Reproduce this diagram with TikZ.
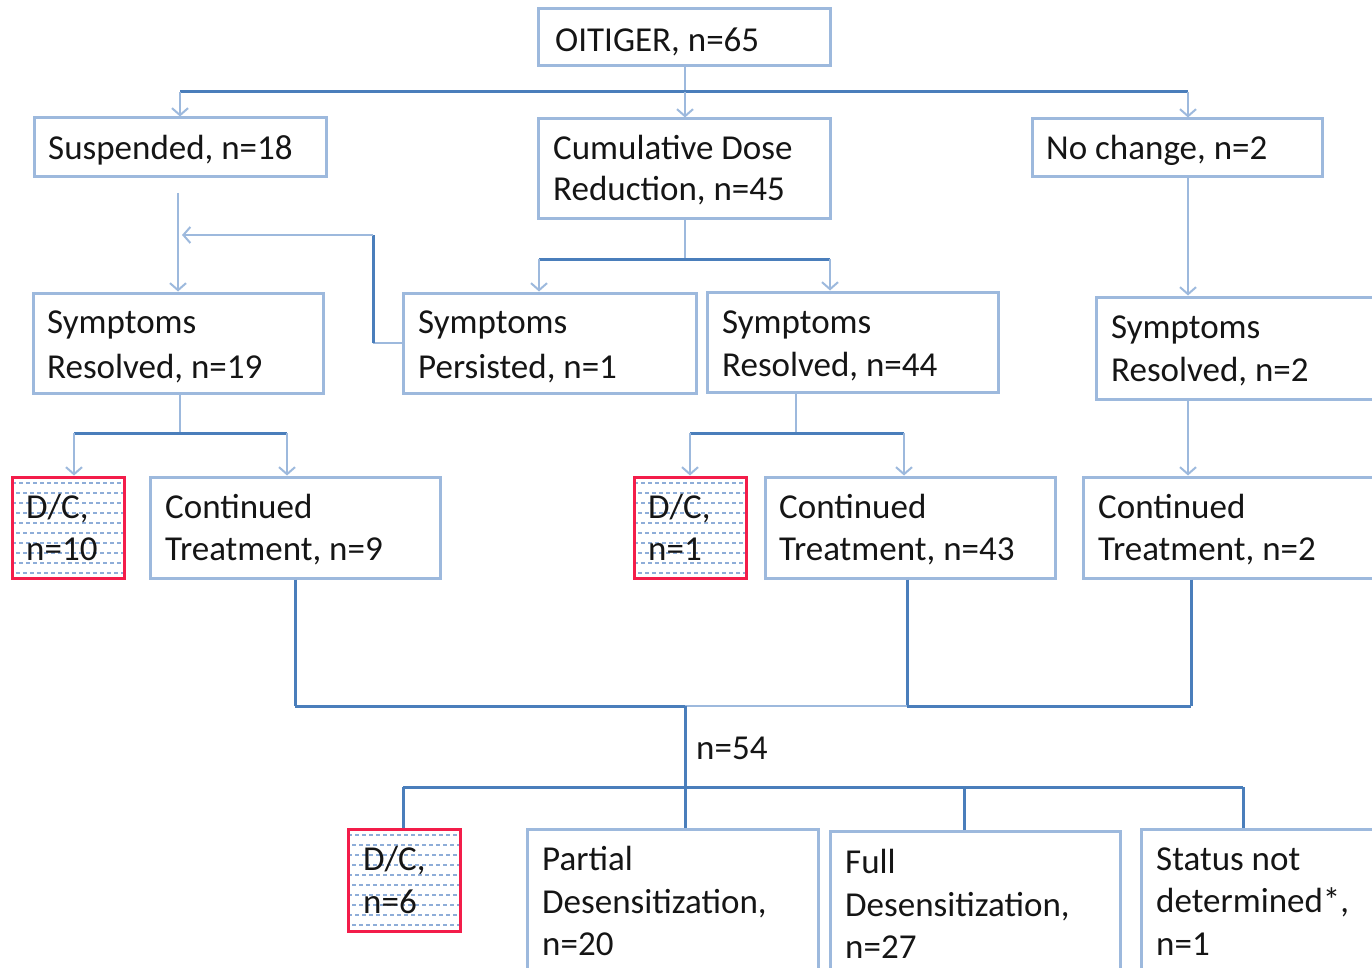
\documentclass[tikz,border=0pt]{standalone}
\usepackage{fontspec}
\setmainfont{Carlito}
\usetikzlibrary{arrows.meta}
\definecolor{lb}{HTML}{9DB9DD}
\definecolor{hb}{HTML}{8EADD8}
\definecolor{db}{HTML}{4A7EBB}
\definecolor{rd}{HTML}{F31D4A}
\definecolor{txt}{HTML}{151515}
\tikzset{
  box/.style={draw=lb, line width=3pt, inner sep=0pt},
  dcbox/.style={draw=rd, line width=3pt, inner sep=0pt},
  lt/.style={draw=lb, line width=2.6pt},
  dk/.style={draw=db, line width=3pt},
  arr/.style={-{Straight Barb[length=7pt,width=16pt,line width=2pt]}},
  lbl/.style={anchor=base west, inner sep=0pt, text=txt, font=\fontsize{35}{43}\selectfont},
}
\newcommand\hatchrows[4]{%
  \begin{scope}
    \clip (#1,#2) rectangle (#3,#4);
    \foreach \k in {0,...,10}{
      \pgfmathsetmacro\yy{#2+6+\k*10}
      \pgfmathsetmacro\ph{mod(\k,2)*3}
      \draw[hb, line width=2.4pt, dash pattern=on 4pt off 3pt, dash phase=\ph pt] (#1,\yy) -- (#3,\yy);
    }
  \end{scope}}
\begin{document}
\begin{tikzpicture}[x=1pt,y=-1pt]
\useasboundingbox (0,0) rectangle (1372,968);

% hatch fills for D/C boxes
\hatchrows{12}{477}{124}{578}
\hatchrows{634}{477}{746}{578}
\hatchrows{348}{829}{460}{931}

% boxes
\node[box, minimum width=292pt, minimum height=57pt] (top) at (684,37.5) {};
\node[box, minimum width=292pt, minimum height=59pt] (susp) at (180,147.5) {};
\node[box, minimum width=292pt, minimum height=100pt] (cum) at (684,169) {};
\node[box, minimum width=290pt, minimum height=58pt] (noch) at (1177,148) {};
\node[box, minimum width=290pt, minimum height=100pt] (sr1) at (178,343) {};
\node[box, minimum width=293pt, minimum height=100pt] (sp) at (549.5,343) {};
\node[box, minimum width=291pt, minimum height=100pt] (sr2) at (852.5,342) {};
\node[box, minimum width=290pt, minimum height=102pt] (sr3) at (1241,348) {};
\node[dcbox, minimum width=112pt, minimum height=101pt] (dc1) at (68,527.5) {};
\node[box, minimum width=290pt, minimum height=101pt] (ct1) at (295,527.5) {};
\node[dcbox, minimum width=112pt, minimum height=101pt] (dc2) at (690,527.5) {};
\node[box, minimum width=290pt, minimum height=101pt] (ct2) at (910,527.5) {};
\node[box, minimum width=297pt, minimum height=101pt] (ct3) at (1231.5,527.5) {};
\node[dcbox, minimum width=112pt, minimum height=102pt] (dc3) at (404,880) {};
\node[box, minimum width=291pt, minimum height=161pt] (pd) at (672.5,909.5) {};
\node[box, minimum width=290pt, minimum height=159pt] (fd) at (975,910.5) {};
\node[box, minimum width=239pt, minimum height=161pt] (sn) at (1260.5,909.5) {};

% texts
\node[lbl] (t0) at (555,52) {OITIGER, n=65};
\node[lbl] (t1) at (48,160) {Suspended, n=18};
\node[lbl] (t2a) at (553,160) {Cumulative Dose};
\node[lbl] (t2b) at (553,201) {Reduction, n=45};
\node[lbl] (t3) at (1046,160) {No change, n=2};
\node[lbl] (t4a) at (47,333) {Symptoms};
\node[lbl] (t4b) at (47,378) {Resolved, n=19};
\node[lbl] (t5a) at (418,333) {Symptoms};
\node[lbl] (t5b) at (418,378) {Persisted, n=1};
\node[lbl] (t6a) at (722,333) {Symptoms};
\node[lbl] (t6b) at (722,376) {Resolved, n=44};
\node[lbl] (t7a) at (1111,338) {Symptoms};
\node[lbl] (t7b) at (1111,381) {Resolved, n=2};
\node[lbl] (t8a) at (26,518) {D/C,};
\node[lbl] (t8b) at (26,560) {n=10};
\node[lbl] (t9a) at (165,518) {Continued};
\node[lbl] (t9b) at (165,560) {Treatment, n=9};
\node[lbl] (t10a) at (648,518) {D/C,};
\node[lbl] (t10b) at (648,560) {n=1};
\node[lbl] (t11a) at (779,518) {Continued};
\node[lbl] (t11b) at (779,560) {Treatment, n=43};
\node[lbl] (t12a) at (1098,518) {Continued};
\node[lbl] (t12b) at (1098,560) {Treatment, n=2};
\node[lbl] (t13) at (696,759) {n=54};
\node[lbl] (t14a) at (363,870) {D/C,};
\node[lbl] (t14b) at (363,913) {n=6};
\node[lbl] (t15a) at (542,870) {Partial};
\node[lbl] (t15b) at (542,913) {Desensitization,};
\node[lbl] (t15c) at (542,955) {n=20};
\node[lbl] (t16a) at (845,873) {Full};
\node[lbl] (t16b) at (845,916) {Desensitization,};
\node[lbl] (t16c) at (845,958) {n=27};
\node[lbl] (t17a) at (1156,870) {Status not};
\node[lbl] (t17b) at (1156,912) {determined*,};
\node[lbl] (t17c) at (1156,955) {n=1};

% junction coordinates
\coordinate (a0) at (685,92);
\coordinate (aL) at (180,92);
\coordinate (aR) at (1188,92);
\coordinate (s0) at (178,193);
\coordinate (pk) at (373,235);
\coordinate (pe) at (182,235);
\coordinate (b0) at (685,259);
\coordinate (bL) at (539,259);
\coordinate (bR) at (830,259);
\coordinate (c0) at (180,433);
\coordinate (cL) at (74,433);
\coordinate (cR) at (287,433);
\coordinate (d0) at (796,433);
\coordinate (dL) at (690,433);
\coordinate (dR) at (904,433);
\coordinate (e1) at (295,706);
\coordinate (e2) at (685,706);
\coordinate (e3) at (907,706);
\coordinate (e4) at (1191,706);
\coordinate (f0) at (685,787);
\coordinate (f1) at (403,787);
\coordinate (f2) at (964,787);
\coordinate (f3) at (1243,787);

% level 1
\draw[lt] (a0 |- top.south) -- (a0);
\draw[dk] (aL) -- (aR);
\draw[lt,arr] (aL) -- (aL |- susp.north);
\draw[lt,arr] (a0) -- (a0 |- cum.north);
\draw[lt,arr] (aR) -- (aR |- noch.north);

% suspended branch
\draw[lt,arr] (s0) -- (s0 |- sr1.north);
\draw[lt] (sp.west) -- (sp.west -| pk);
\draw[dk] (sp.west -| pk) -- (pk);
\draw[lt,arr] (pk) -- (pe);

% cumulative branch
\draw[lt] (b0 |- cum.south) -- (b0);
\draw[dk] (bL) -- (bR);
\draw[lt,arr] (bL) -- (bL |- sp.north);
\draw[lt,arr] (bR) -- (bR |- sr2.north);

% no change branch
\draw[lt,arr] (aR |- noch.south) -- (aR |- sr3.north);

% resolved branches
\draw[lt] (c0 |- sr1.south) -- (c0);
\draw[dk] (cL) -- (cR);
\draw[lt,arr] (cL) -- (cL |- dc1.north);
\draw[lt,arr] (cR) -- (cR |- ct1.north);
\draw[lt] (d0 |- sr2.south) -- (d0);
\draw[dk] (dL) -- (dR);
\draw[lt,arr] (dL) -- (dL |- dc2.north);
\draw[lt,arr] (dR) -- (dR |- ct2.north);
\draw[lt,arr] (aR |- sr3.south) -- (aR |- ct3.north);

% merge
\draw[dk] (e1 |- ct1.south) -- (e1);
\draw[dk] (e3 |- ct2.south) -- (e3);
\draw[dk] (e4 |- ct3.south) -- (e4);
\draw[dk] (e1) -- (e2);
\draw[lt] (e2) -- (e3);
\draw[dk] (e3) -- (e4);
\draw[dk] (e2) -- (e2 |- pd.north);
\draw[dk] (f1) -- (f3);
\draw[dk] (f1) -- (f1 |- dc3.north);
\draw[dk] (f2) -- (f2 |- fd.north);
\draw[dk] (f3) -- (f3 |- sn.north);
\end{tikzpicture}
\end{document}
